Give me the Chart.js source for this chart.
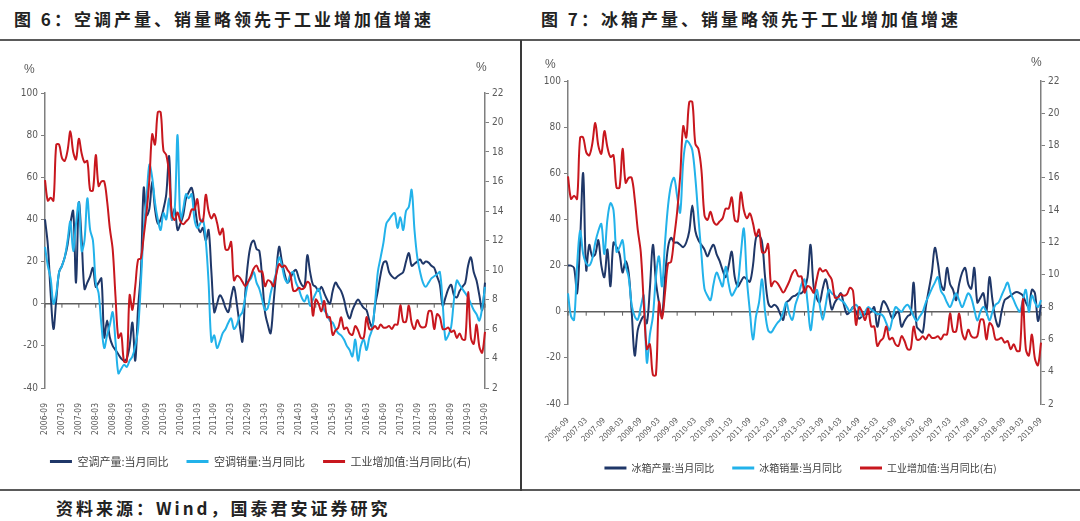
<!DOCTYPE html>
<html><head><meta charset="utf-8">
<script src="https://cdn.jsdelivr.net/npm/chart.js@4.4.1/dist/chart.umd.min.js"></script>
<style>
html,body{margin:0;padding:0;background:#fff;}
#wrap{position:relative;width:1080px;height:521px;overflow:hidden;background:#fff;font-family:"Noto Sans CJK SC",sans-serif;}
.title{position:absolute;top:6px;font-size:17px;font-weight:700;letter-spacing:3px;color:#222;white-space:nowrap;}
.hline{position:absolute;left:0;width:1080px;height:2px;background:#5a5a5a;}
.vline{position:absolute;top:40px;left:520px;width:2px;height:451px;background:#3a3a3a;}
.pct{position:absolute;font:12px "Liberation Sans",sans-serif;color:#595959;}
.src{position:absolute;left:56px;top:495px;font-size:17px;font-weight:700;letter-spacing:3px;color:#222;white-space:nowrap;}
canvas{position:absolute;}
</style></head>
<body><div id="wrap">
<div class="title" style="left:14px">图 6：空调产量、销量略领先于工业增加值增速</div>
<div class="title" style="left:541px">图 7：冰箱产量、销量略领先于工业增加值增速</div>
<canvas id="c1" width="521" height="440" style="left:0;top:45px"></canvas>
<canvas id="c2" width="559" height="440" style="left:521px;top:45px"></canvas>
<div class="hline" style="top:39px"></div>
<div class="hline" style="top:489px"></div>
<div class="vline"></div>
<div class="pct" style="left:24px;top:62px">%</div>
<div class="pct" style="left:476px;top:60px">%</div>
<div class="pct" style="left:545px;top:57px">%</div>
<div class="pct" style="left:1031px;top:55px">%</div>
<div class="src">资料来源：Wind，国泰君安证券研究</div>
</div>
<script>
// categories: monthly 2006-09 .. 2019-09
const months = [];
for (let y = 2006, m = 9; y < 2019 || (y === 2019 && m <= 9);) {
  months.push(y + '-' + String(m).padStart(2, '0'));
  m++; if (m > 12) { m = 1; y++; }
}

// 空调产量:当月同比 (%)
const acProd = [
 40,28,5,-12,2,15,18,22,28,38,
 44,10,48,30,7,10,13,17,8,10,
 12,-16,-8,-16,-20,-22,-24,-26,-27,-26,
 -20,-9,-27,-2,15,55,42,45,58,45,
 38,40,45,52,70,40,45,35,38,42,
 50,53,55,48,38,34,36,30,35,15,
 -4,0,4,2,-2,-4,3,8,0,-10,
 -18,5,20,28,30,26,25,12,-4,-10,
 -14,0,15,27,20,14,10,12,15,16,
 12,9,8,23,15,9,8,6,8,5,
 2,0,6,10,8,6,2,-4,-7,-3,
 0,2,0,-2,-3,-8,-11,-1,6,14,
 19.5,20,15,13,12,13,14,15,20,24,
 18,19,20,21,19,20,19.5,18,17,13,
 9,-1,3,7,9,4,3,6,8,10,
 18,22,15,11,4,-3,10];

// 空调销量:当月同比 (%)
const acSales = [
 27,18,12,0,5,15,18,22,30,39,
 25,38,48,25,30,50,35,30,10,5,
 -10,-21,-15,-10,-4,-18,-33,-31,-29,-30,
 -27,-25,-20,-12,10,35,50,66,60,48,
 40,35,43,40,50,40,45,80,40,45,
 52,50,52,40,36,38,40,30,10,-18,
 -15,-21,-18,-14,-12,-9,-7,-12,-10,-6,
 -4,3,10,12,15,10,7,2,-3,-2,
 5,10,15,22,18,12,10,14,15,10,
 7,3,1,4,-1,2,5,7,2,-3,
 -5,-8,-9,-12,-14,-15,-17,-20,-22,-25,
 -17,-27,-20,-17,-22,-16,-12,0,15,22,
 29,38,40,42,43,36,41,35,44,46,
 54,35,22,15,10,8,10,12,13,14,
 15,0,-17,-15,-11,2,11,9,7,5,
 3,0,-3,-5,-8,-2,8];

// 冰箱产量:当月同比 (%)
const frProd = [
 20,20,19,8,31,60,18,29,24,25,
 31,20,15,27,11,30,28,25,17,22,
 17,0,-19,-8,-4,-2,-5,10,29,13,
 4,-2,15,28,32,30,30,29,28,30,
 35,46,35,31,29,27,24,27,29,25,
 22,18,15,20,26,15,11,13,15,14,
 13,20,32,33,30,15,4,2,3,2,
 -1,-3.5,4,5,6.5,7,8,8,10,15,
 29,11,6,4,10,14,8,1,4,6,
 8,3,-1,0,2,0,-3,-2,-1,-1,
 0,2,-6.5,0,4.6,3,0,-3,-1,0,
 -6.5,-4,-2,-1,12.6,-6.5,-8,-9,2,9.5,
 17,27.7,21,12,9.5,19,12,9.5,5,12,
 17,19,12,10,19,4,6,8,0,15,
 5,-3,-6.5,0,5,6,7,8,8.5,8,
 7,4,2,9.5,8,-4,3];

// 冰箱销量:当月同比 (%)
const frSales = [
 8,-2,-3.5,20,35,25,21,20,23,30,
 35,38,25,40,47,44,26,28,31,20,
 15,3,-2,-3.5,2,7,-22,-10,-2,15,
 24,11,30,46,55,58,50,43,65,74,
 73,70,58,41,25,10,6.9,5,12,17,
 14,11,19.5,12,7,9,12,25,36,14,
 0,-12,-2,4,14,0,-8,-9,-7,-5,
 -3.5,0,4,-1,-3.5,3,7,12,14,4,
 -8,2,9.5,3,-3.5,3,9.5,8,7,6,
 5,4,2,0,2,3,1,-2,0,2,
 1,0,-1,-1,-2,-5,-8,-3,2,1,
 0,2,3,1,-2,-4,-2,0,4,7,
 10,12.6,15,9,7,4,2,5,8,5,
 2,5,8,6,1,-3.8,0,2,0,-3.8,
 0,3,4,7,10,12.6,8,5,2,0,
 5,9.5,0,7,4,2,5];

// 工业增加值:当月同比 (%), right axis
const iva = [
 16.1,14.7,14.9,14.7,18.5,18.5,17.6,17.4,18.1,19.4,
 18.0,17.5,18.9,17.9,17.3,17.4,15.4,15.4,17.8,15.7,
 16.0,16.0,14.7,12.8,11.4,8.2,5.4,5.7,3.8,3.8,
 8.3,7.3,8.9,10.7,10.8,12.3,13.9,16.1,19.2,18.5,
 20.7,20.7,18.1,17.8,16.5,13.7,13.4,13.9,13.3,13.1,
 13.3,13.5,14.1,14.1,14.8,13.4,13.3,15.1,14.0,13.5,
 13.8,13.2,12.4,12.8,11.4,11.4,11.9,9.3,9.6,9.5,
 9.2,8.9,9.2,9.6,10.1,10.3,9.9,9.9,8.9,9.3,
 9.2,8.9,9.7,10.4,10.2,10.3,10.0,9.7,8.6,8.6,
 8.8,8.7,8.8,9.2,9.0,6.9,8.0,7.7,7.2,7.9,
 6.8,6.8,5.6,5.9,6.1,6.8,6.0,6.1,5.7,5.6,
 6.2,5.9,5.4,5.4,6.8,6.0,6.0,6.2,6.0,6.3,
 6.1,6.1,6.2,6.0,6.3,6.3,7.6,6.5,6.5,7.6,
 6.4,6.0,6.6,6.2,6.1,6.2,7.2,7.2,6.0,7.0,
 6.8,6.0,6.0,6.1,5.8,5.9,5.4,5.7,5.3,5.3,
 8.5,5.4,5.0,6.3,4.8,4.4,5.8];

const leftTicks = { min: -40, max: 100, step: 20 };
const rightTicks = { min: 2, max: 22, step: 2 };
const names1 = ['空调产量:当月同比', '空调销量:当月同比', '工业增加值:当月同比(右)'];
const names2 = ['冰箱产量:当月同比', '冰箱销量:当月同比', '工业增加值:当月同比(右)'];

const NAVY = '#1f3768', LIGHT = '#22b2ea', RED = '#c8171e', AXIS = '#7f7f7f', TXT = '#595959';
const TICKFONT = '"Liberation Sans Narrow","DejaVu Sans Condensed","Liberation Sans",sans-serif';

const zeroLine = {
  id: 'zeroLine',
  beforeDatasetsDraw(chart) {
    const { ctx, chartArea, scales } = chart;
    const y = scales.y.getPixelForValue(0);
    ctx.save();
    ctx.strokeStyle = '#5f5f5f';
    ctx.lineWidth = 1.6;
    ctx.beginPath();
    ctx.moveTo(chartArea.left, y); ctx.lineTo(chartArea.right, y);
    ctx.stroke();
    ctx.lineWidth = 1;
    ctx.beginPath();
    for (let i = 0; i < months.length; i += 6) {
      const x = scales.x.getPixelForValue(i);
      ctx.moveTo(x, y); ctx.lineTo(x, y + 4);
    }
    ctx.stroke();
    ctx.restore();
  }
};

function build(id, prod, sales, names, cfg) {
  const baseLegend = Chart.defaults.plugins.legend.labels.generateLabels;
  return new Chart(document.getElementById(id), {
    type: 'line',
    data: {
      labels: months,
      datasets: [
        { label: names[0], data: prod, yAxisID: 'y', borderColor: NAVY, backgroundColor: NAVY, borderWidth: 2, pointRadius: 0, tension: 0.35, order: 3 },
        { label: names[1], data: sales, yAxisID: 'y', borderColor: LIGHT, backgroundColor: LIGHT, borderWidth: 2, pointRadius: 0, tension: 0.35, order: 2 },
        { label: names[2], data: iva, yAxisID: 'y2', borderColor: RED, backgroundColor: RED, borderWidth: 2, pointRadius: 0, tension: 0.35, order: 1 }
      ]
    },
    options: {
      responsive: false, animation: false, devicePixelRatio: 1, events: [],
      layout: { padding: { top: cfg.padTop, bottom: cfg.padBottom, left: 0, right: 0 } },
      scales: {
        x: {
          type: 'category',
          grid: { display: false }, border: { display: false },
          ticks: {
            autoSkip: false, minRotation: cfg.rot, maxRotation: cfg.rot, padding: cfg.xPad,
            color: TXT, font: { family: TICKFONT, size: cfg.xFont },
            callback: function (v, i) { return i % 6 === 0 ? this.getLabelForValue(v) : ''; }
          },
          afterFit: s => { s.height = cfg.xH; }
        },
        y: {
          position: 'left', min: leftTicks.min, max: leftTicks.max,
          ticks: { stepSize: leftTicks.step, color: TXT, padding: 3, font: { family: TICKFONT, size: 10 } },
          grid: { drawOnChartArea: false, color: AXIS, tickLength: 4, tickWidth: 1 },
          border: { color: AXIS, width: 1.5 },
          afterFit: s => { s.width = cfg.yW; }
        },
        y2: {
          position: 'right', min: rightTicks.min, max: rightTicks.max,
          ticks: { stepSize: rightTicks.step, color: TXT, padding: 3, font: { family: TICKFONT, size: 10 } },
          grid: { drawOnChartArea: false, color: AXIS, tickLength: 4, tickWidth: 1 },
          border: { color: AXIS, width: 1.5 },
          afterFit: s => { s.width = cfg.y2W; }
        }
      },
      plugins: {
        tooltip: { enabled: false },
        legend: {
          position: 'bottom',
          labels: {
            usePointStyle: true, pointStyle: 'line', pointStyleWidth: 22,
            color: '#404040', padding: 18,
            font: { family: '"Noto Sans CJK SC",sans-serif', size: cfg.legFont },
            sort: (a, b) => a.datasetIndex - b.datasetIndex,
            generateLabels: ch => baseLegend(ch).map(l => Object.assign(l, { lineWidth: 3 }))
          }
        }
      }
    },
    plugins: [zeroLine]
  });
}

build('c1', acProd, acSales, names1, { padTop: 48, padBottom: 8, rot: 90, xPad: 7, xFont: 8.5, xH: 50, yW: 45, y2W: 36, legFont: 11 });
build('c2', frProd, frSales, names2, { padTop: 36, padBottom: 2, rot: 45, xPad: 4, xFont: 8, xH: 41, yW: 47, y2W: 39, legFont: 10 });
</script>
</body></html>
